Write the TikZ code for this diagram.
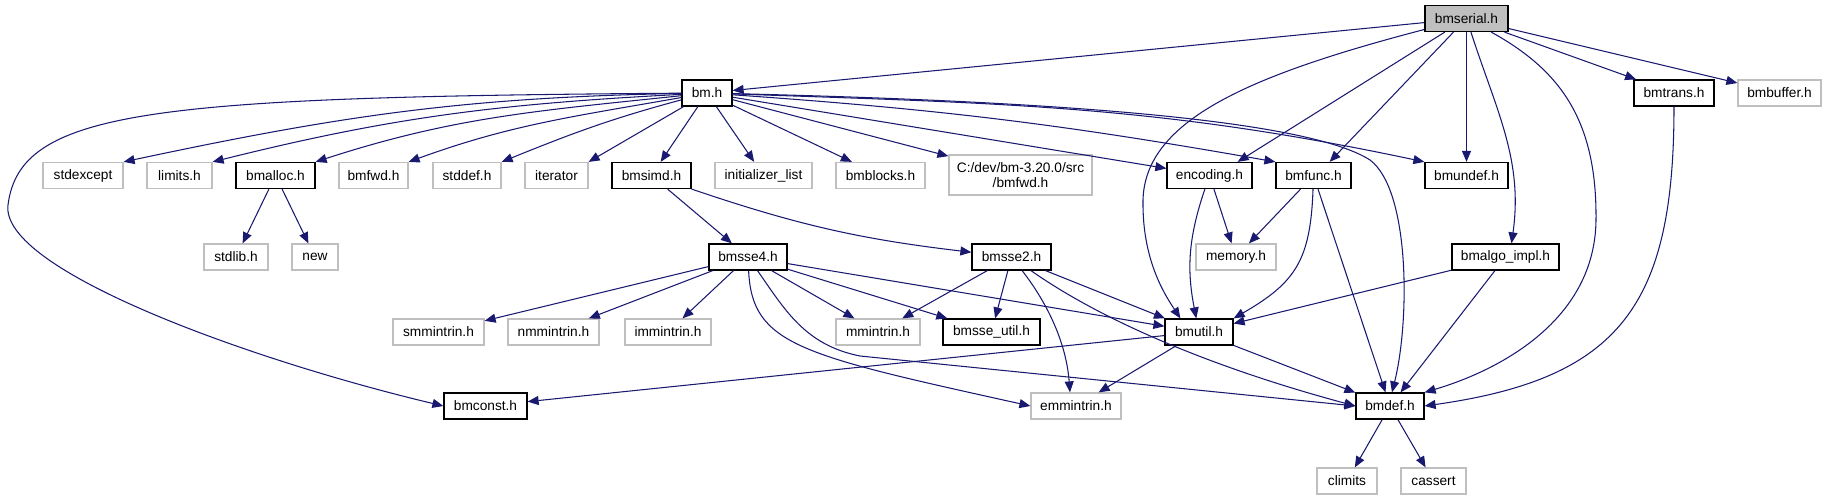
\documentclass[tikz,border=0pt]{standalone}
\usepackage{fontspec}
\setmainfont{Liberation Sans}
\usetikzlibrary{arrows.meta,calc}
\definecolor{edgeblue}{HTML}{191970}
\definecolor{sysdraw}{HTML}{BFBFBF}
\definecolor{mainfill}{HTML}{BFBFBF}
\tikzset{
  >={Triangle[length=0.22cm,width=0.18cm]},
  basebox/.style={
    draw=black,
    line width=0.7pt,
    fill=white,
    minimum height=0.52cm,
    inner sep=1pt,
    align=center,
    font=\fontsize{7.8}{8.6}\selectfont,
  },
  filebox/.style={basebox},
  sysbox/.style={basebox, draw=sysdraw},
  mainbox/.style={basebox, fill=mainfill},
  edge/.style={->, edgeblue, line width=0.6pt},
}

\begin{document}
\begin{tikzpicture}[x=0.02cm, y=-0.02cm]
  \useasboundingbox (0,0) rectangle (1826,500);

  \node[mainbox, minimum width=1.66cm] (bmserial) at (1466.5,18.5) {bmserial.h};

  \node[filebox, minimum width=1.0cm] (bm) at (707,93) {bm.h};
  \node[filebox, minimum width=1.6cm] (bmtrans) at (1674,93) {bmtrans.h};
  \node[sysbox, minimum width=1.66cm] (bmbuffer) at (1779.5,93) {bmbuffer.h};

  \node[sysbox, minimum width=1.6cm] (stdexcept) at (83,175.5) {stdexcept};
  \node[sysbox, minimum width=1.3cm] (limits) at (179.5,175.5) {limits.h};
  \node[filebox, minimum width=1.58cm] (bmalloc) at (275.5,175.5) {bmalloc.h};
  \node[sysbox, minimum width=1.38cm] (bmfwd) at (373.5,175.5) {bmfwd.h};
  \node[sysbox, minimum width=1.36cm] (stddef) at (467,175.5) {stddef.h};
  \node[sysbox, minimum width=1.26cm] (iterator) at (556.5,175.5) {iterator};
  \node[filebox, minimum width=1.58cm] (bmsimd) at (651.5,175.5) {bmsimd.h};
  \node[sysbox, minimum width=1.94cm] (initlist) at (763.5,175.5) {initializer\_list};
  \node[sysbox, minimum width=1.78cm] (bmblocks) at (880.5,175.5) {bmblocks.h};
  \node[sysbox, minimum width=2.86cm, minimum height=0.8cm] (cdev) at (1020.5,175) {C:/dev/bm-3.20.0/src\\/bmfwd.h};
  \node[filebox, minimum width=1.7cm] (encoding) at (1209.5,175.5) {encoding.h};
  \node[filebox, minimum width=1.5cm] (bmfunc) at (1313.5,175.5) {bmfunc.h};
  \node[filebox, minimum width=1.66cm] (bmundef) at (1466.5,175.5) {bmundef.h};

  \node[sysbox, minimum width=1.28cm] (stdlib) at (236,257) {stdlib.h};
  \node[sysbox, minimum width=0.92cm] (newh) at (315,257) {new};
  \node[filebox, minimum width=1.56cm] (bmsse4) at (748,257) {bmsse4.h};
  \node[filebox, minimum width=1.58cm] (bmsse2) at (1011.5,257) {bmsse2.h};
  \node[sysbox, minimum width=1.6cm] (memory) at (1236,257) {memory.h};
  \node[filebox, minimum width=2.14cm] (bmalgo) at (1505.5,257) {bmalgo\_impl.h};

  \node[sysbox, minimum width=1.82cm] (smmintrin) at (438.5,332) {smmintrin.h};
  \node[sysbox, minimum width=1.82cm] (nmmintrin) at (553.5,332) {nmmintrin.h};
  \node[sysbox, minimum width=1.72cm] (immintrin) at (668,332) {immintrin.h};
  \node[sysbox, minimum width=1.68cm] (mmintrin) at (878,332) {mmintrin.h};
  \node[filebox, minimum width=1.94cm] (bmsseutil) at (991.5,332) {bmsse\_util.h};
  \node[filebox, minimum width=1.36cm] (bmutil) at (1199,332) {bmutil.h};

  \node[filebox, minimum width=1.66cm] (bmconst) at (485.5,406) {bmconst.h};
  \node[sysbox, minimum width=1.8cm] (emmintrin) at (1076,406) {emmintrin.h};
  \node[filebox, minimum width=1.36cm] (bmdef) at (1390,406) {bmdef.h};

  \node[sysbox, minimum width=1.2cm] (climits) at (1347,481) {climits};
  \node[sysbox, minimum width=1.3cm] (cassert) at (1433.5,481) {cassert};

  % bmserial.h
  \draw[edge] (bmserial) -- (bm);
  \draw[edge] (bmserial) .. controls (1250,75) and (1145,120) .. (1143,200)
    .. controls (1142,260) and (1165,295) .. ($(bmutil.north west)+(16,0)$);
  \draw[edge] (bmserial) -- ($(encoding.north east)+(-15,0)$);
  \draw[edge] (bmserial) -- ($(bmfunc.north east)+(-22,0)$);
  \draw[edge] (bmserial) -- (bmundef);
  \draw[edge] (bmserial) to[out=-72, in=82] ($(bmalgo.north)+(6,0)$);
  \draw[edge] (bmserial) .. controls (1560,70) and (1597,120) .. (1596,220)
    .. controls (1595,320) and (1500,370) .. (bmdef.north east);
  \draw[edge] (bmserial) -- (bmtrans);
  \draw[edge] (bmserial) -- (bmbuffer);

  % bm.h
  \draw[edge] (bm) to[out=181, in=12] (stdexcept.north east);
  \draw[edge] (bm) to[out=183, in=14] (limits.north east);
  \draw[edge] (bm) to[out=186, in=18] (bmalloc.north east);
  \draw[edge] (bm) to[out=190, in=20] (bmfwd.north east);
  \draw[edge] (bm) to[out=195, in=22] (stddef.north east);
  \draw[edge] (bm) -- (iterator.north east);
  \draw[edge] (bm) .. controls (150,97) and (20,110) .. (8,205)
    .. controls (0,270) and (250,360) .. (bmconst.west);
  \draw[edge] (bm) -- (bmsimd);
  \draw[edge] (bm) -- (initlist);
  \draw[edge] (bm) -- (bmblocks);
  \draw[edge] (bm) -- (cdev);
  \draw[edge] (bm) -- (encoding);
  \draw[edge] (bm) to[out=-4, in=170] (bmfunc.north west);
  \draw[edge] (bm) to[out=-2, in=168] (bmundef.north west);
  \draw[edge] (bm) .. controls (1000,100) and (1300,115) .. (1370,160)
    .. controls (1410,190) and (1410,320) .. ($(bmdef.north)+(2,0)$);

  \draw[edge] (bmtrans) to[out=-90, in=8, looseness=1.3] (bmdef.east);

  \draw[edge] (bmalloc) -- (stdlib);
  \draw[edge] (bmalloc) -- (newh);

  \draw[edge] (bmsimd) -- (bmsse4);
  \draw[edge] (bmsimd) to[bend right=6] (bmsse2);

  % bmsse4.h
  \draw[edge] (bmsse4) -- (smmintrin);
  \draw[edge] (bmsse4) -- (nmmintrin);
  \draw[edge] (bmsse4) -- (immintrin);
  \draw[edge] (bmsse4) .. controls (752,345) and (800,355) .. (emmintrin.west);
  \draw[edge] (bmsse4) .. controls (785,310) and (805,345) .. (860,356) -- (bmdef.west);
  \draw[edge] (bmsse4) -- (mmintrin);
  \draw[edge] (bmsse4) -- (bmsseutil);
  \draw[edge] (bmsse4) -- (bmutil);

  % bmsse2.h
  \draw[edge] (bmsse2) -- (mmintrin);
  \draw[edge] (bmsse2) -- (bmsseutil);
  \draw[edge] (bmsse2) .. controls (1045,300) and (1066,340) .. ($(emmintrin.north)+(-6,0)$);
  \draw[edge] (bmsse2) to[out=-35, in=165, looseness=0.8] (bmdef.west);
  \draw[edge] (bmsse2) -- (bmutil);

  \draw[edge] (encoding) -- (memory);
  \draw[edge] (encoding) to[bend right=15] (bmutil);

  \draw[edge] (bmfunc) -- (memory);
  \draw[edge] (bmfunc) to[out=-92, in=30, looseness=1.2] (bmutil.north east);
  \draw[edge] (bmfunc) -- (bmdef);

  \draw[edge] (bmalgo) -- (bmutil);
  \draw[edge] (bmalgo) -- (bmdef);

  \draw[edge] (bmutil) -- (bmconst);
  \draw[edge] (bmutil) -- (emmintrin);
  \draw[edge] (bmutil) -- (bmdef);

  \draw[edge] (bmdef) -- (climits);
  \draw[edge] (bmdef) -- (cassert);
\end{tikzpicture}
\end{document}
